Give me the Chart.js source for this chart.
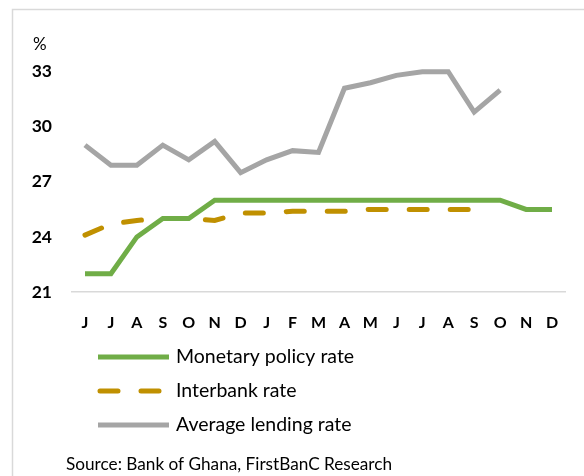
<!DOCTYPE html>
<html>
<head>
<meta charset="utf-8">
<script src="https://cdn.jsdelivr.net/npm/chart.js@4.4.0/dist/chart.umd.min.js"></script>
<style>
  html, body { margin: 0; padding: 0; background: #fff; }
  #wrap { width: 584px; height: 476px; }
</style>
</head>
<body>
<div id="wrap"><canvas id="chart" width="584" height="476"></canvas></div>
<script>
const months = ['J', 'J', 'A', 'S', 'O', 'N', 'D', 'J', 'F', 'M', 'A', 'M', 'J', 'J', 'A', 'S', 'O', 'N', 'D'];
const policyRate = [22, 22, 24, 25, 25, 26, 26, 26, 26, 26, 26, 26, 26, 26, 26, 26, 26, 25.5, 25.5];
const interbankRate = [24.1, 24.7, 24.9, 25.0, 25.0, 24.9, 25.3, 25.3, 25.4, 25.4, 25.4, 25.5, 25.5, 25.5, 25.5, 25.5, null, null, null];
const lendingRate = [29.0, 27.9, 27.9, 29.0, 28.2, 29.2, 27.5, 28.2, 28.7, 28.6, 32.1, 32.4, 32.8, 33.0, 33.0, 30.8, 32.0, null, null];
const yTicks = [21, 24, 27, 30, 33];

const FONT = 'Lato, "Open Sans", sans-serif';

const frameAndText = {
  id: 'frameAndText',
  beforeDraw(chart) {
    const ctx = chart.ctx;
    ctx.save();
    ctx.strokeStyle = '#d9d9d9';
    ctx.lineWidth = 1.5;
    ctx.beginPath();
    ctx.moveTo(12.5, 476);
    ctx.lineTo(12.5, 9.5);
    ctx.lineTo(584, 9.5);
    ctx.stroke();
    ctx.restore();
  },
  afterDraw(chart) {
    const ctx = chart.ctx;
    ctx.save();
    ctx.fillStyle = '#000';
    ctx.textBaseline = 'middle';
    ctx.font = '17px ' + FONT;
    ctx.fillText('%', 33, 45);

    // legend, one row per dataset
    const rows = [357, 391, 425];
    chart.data.datasets.forEach((ds, i) => {
      const y = rows[i];
      ctx.strokeStyle = ds.borderColor;
      ctx.lineWidth = ds.borderWidth;
      ctx.lineCap = ds.borderDash ? 'round' : 'butt';
      ctx.setLineDash(ds.borderDash ? [18, 23] : []);
      ctx.beginPath();
      ctx.moveTo(ds.borderDash ? 100 : 98, y);
      ctx.lineTo(169, y);
      ctx.stroke();
      ctx.setLineDash([]);
      ctx.fillStyle = '#000';
      ctx.font = '19.5px ' + FONT;
      ctx.fillText(ds.label, 176, y);
    });

    ctx.font = '17.2px ' + FONT;
    ctx.fillText('Source: Bank of Ghana, FirstBanC Research', 66, 464);
    ctx.restore();
  },
};

new Chart(document.getElementById('chart'), {
  type: 'line',
  data: {
    labels: months,
    datasets: [
      {
        label: 'Monetary policy rate',
        data: policyRate,
        borderColor: '#70ad47',
        borderWidth: 5,
      },
      {
        label: 'Interbank rate',
        data: interbankRate,
        borderColor: '#c09000',
        borderWidth: 5,
        borderDash: [18, 23],
        borderCapStyle: 'round',
      },
      {
        label: 'Average lending rate',
        data: lendingRate,
        borderColor: '#a5a5a5',
        borderWidth: 5,
      },
    ],
  },
  options: {
    responsive: false,
    animation: false,
    layout: {
      padding: { top: 71.7, right: 19, bottom: 134, left: 0 },
    },
    elements: {
      line: { tension: 0, borderJoinStyle: 'miter' },
      point: { radius: 0, hoverRadius: 0 },
    },
    datasets: { line: { clip: 8 } },
    plugins: {
      legend: { display: false },
      tooltip: { enabled: false },
    },
    scales: {
      x: {
        offset: true,
        grid: { display: false, drawTicks: false },
        border: { display: true, color: '#d9d9d9', width: 1.5 },
        ticks: {
          color: '#000',
          font: { family: FONT, size: 16, weight: 'bold' },
          padding: 21,
          maxRotation: 0,
          autoSkip: false,
        },
        afterFit: (scale) => {
          scale.height = 50;
        },
      },
      y: {
        min: 21,
        max: 33,
        afterBuildTicks: (scale) => {
          scale.ticks = yTicks.map((v) => ({ value: v }));
        },
        grid: { display: false, drawTicks: false },
        border: { display: false },
        ticks: {
          color: '#000',
          font: { family: FONT, size: 17.5, weight: 'bold' },
          padding: 20,
        },
        afterFit: (scale) => {
          scale.width = 72;
        },
      },
    },
  },
  plugins: [frameAndText],
});
</script>
</body>
</html>
